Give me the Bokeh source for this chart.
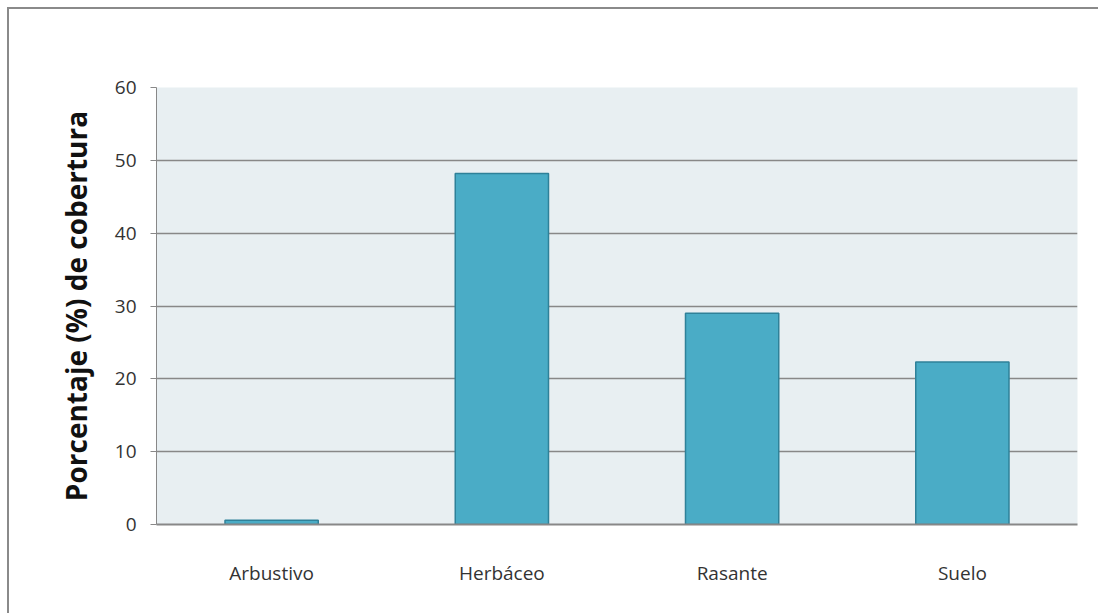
from bokeh.plotting import figure
from bokeh.models import ColumnDataSource, InlineStyleSheet, SingleIntervalTicker, Title
from bokeh.embed import file_html
from bokeh.resources import INLINE

categories = ["Arbustivo", "Herbáceo", "Rasante", "Suelo"]
values = [0.6, 48.2, 29.0, 22.3]
y_label = "Porcentaje (%) de cobertura"

FONT = "Open Sans"
src = ColumnDataSource(dict(cat=categories, val=values))

p = figure(x_range=categories, y_range=(0, 60), width=1098, height=613,
           output_backend="svg", toolbar_location=None,
           min_border_left=156, min_border_right=21, min_border_top=87, min_border_bottom=89)
p.background_fill_color = "#e8eff2"
p.border_fill_color = "white"
p.outline_line_color = None

p.vbar(x="cat", top="val", width=0.405, source=src, fill_color="#4aacc6",
       line_color="#2f8199", line_width=1.5)

p.yaxis.ticker = SingleIntervalTicker(interval=10)
p.yaxis.axis_line_color = "#888888"
p.yaxis.axis_line_width = 1
p.yaxis.major_tick_line_color = "#888888"
p.yaxis.major_tick_in = 0
p.yaxis.major_tick_out = 6
p.yaxis.minor_tick_line_color = None
p.yaxis.major_label_text_font = FONT
p.yaxis.major_label_text_font_size = "19px"
p.yaxis.major_label_text_color = "#333333"
p.yaxis.major_label_standoff = 14

p.xaxis.axis_line_color = "#888888"
p.xaxis.axis_line_width = 2
p.xaxis.major_tick_line_color = None
p.xaxis.minor_tick_line_color = None
p.xaxis.major_label_text_font = FONT
p.xaxis.major_label_text_font_size = "19px"
p.xaxis.major_label_text_color = "#333333"
p.xaxis.major_label_standoff = 29

p.xgrid.grid_line_color = None
p.ygrid.grid_line_color = "#888888"
p.ygrid.grid_line_width = 1.5

ylab = Title(text=y_label, align="center", standoff=33,
             text_font=FONT, text_font_style="bold", text_font_size="28px",
             text_color="#111111")
p.add_layout(ylab, "left")

p.stylesheets = [InlineStyleSheet(css=""":host {overflow: hidden;}
:host::after {content: ''; position: absolute;
 left: 7px; top: 7px; width: 1300px; height: 800px;
 border-left: 2px solid #8a8a8a; border-top: 2px solid #8a8a8a;
 pointer-events: none; z-index: 10;}""")]

open("out.html", "w").write(file_html(p, INLINE))
